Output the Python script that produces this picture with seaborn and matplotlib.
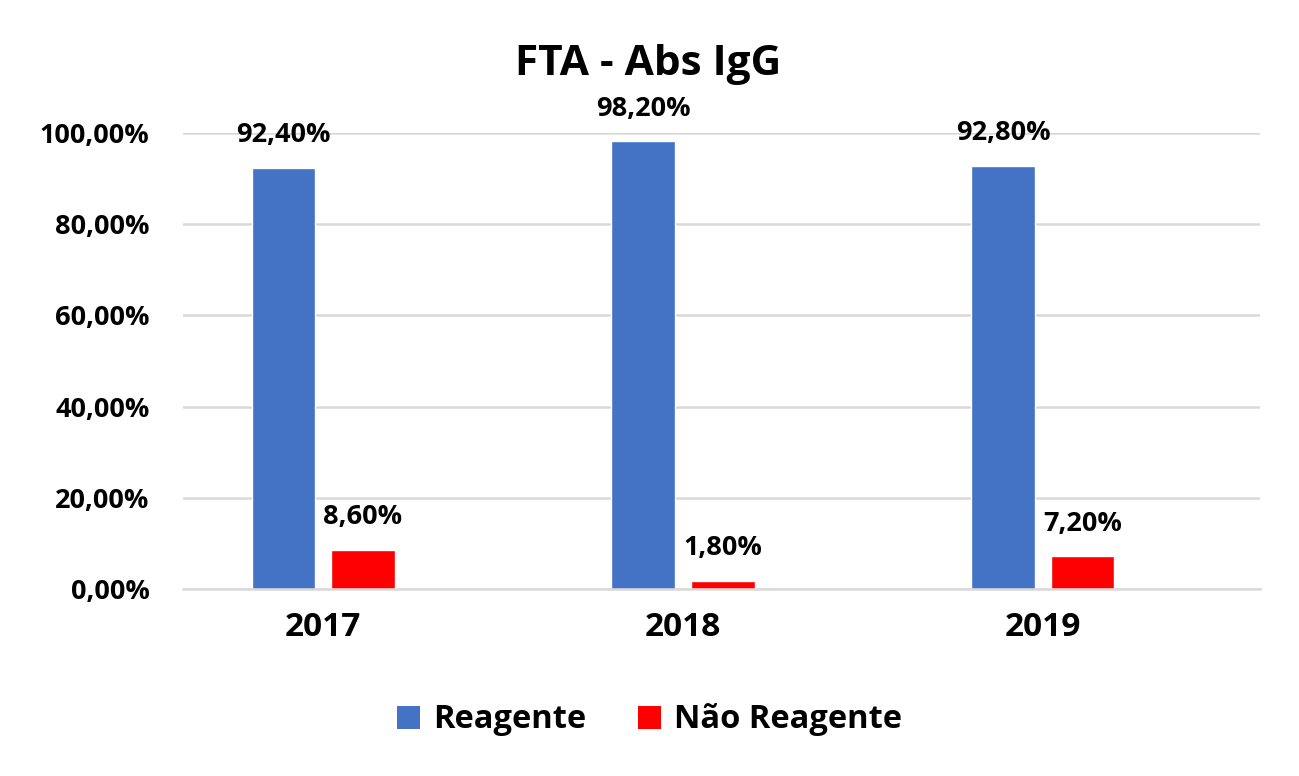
import matplotlib
matplotlib.use("Agg")
import matplotlib.pyplot as plt
import seaborn as sns
import pandas as pd

years = ["2017", "2018", "2019"]
reagente = [92.40, 98.20, 92.80]
nao_reagente = [8.60, 1.80, 7.20]
series_names = ["Reagente", "Não Reagente"]
colors = ["#4472C4", "#FF0000"]

df = pd.DataFrame({
    "ano": years * 2,
    "valor": reagente + nao_reagente,
    "serie": [series_names[0]] * 3 + [series_names[1]] * 3,
})

sns.set_theme(style="white")
plt.rcParams["font.family"] = ["Open Sans", "DejaVu Sans"]
plt.rcParams["font.weight"] = "bold"
plt.rcParams["text.color"] = "black"
plt.rcParams["xtick.color"] = "black"
plt.rcParams["ytick.color"] = "black"
plt.rcParams["xtick.labelcolor"] = "black"
plt.rcParams["ytick.labelcolor"] = "black"

fig = plt.figure(figsize=(12.99, 7.76), dpi=100)
ax = fig.add_axes([183/1299, 1-589/776, (1260-183)/1299, (589-133)/776])

sns.barplot(data=df, x="ano", y="valor", hue="serie", palette=colors,
            width=0.444, gap=0.21, ax=ax, legend=False, saturation=1)

ax.set_ylim(0, 100)
ax.set_xlim(-0.389, 2.603)
ax.set_yticks([0, 20, 40, 60, 80, 100])
ax.set_yticklabels([f"{v:.2f}%".replace(".", ",") for v in [0, 20, 40, 60, 80, 100]])
ax.yaxis.grid(True, color="#D9D9D9", linewidth=1.8)
ax.set_axisbelow(True)
for s in ["top", "right", "left"]:
    ax.spines[s].set_visible(False)
ax.spines["bottom"].set_color("#D9D9D9")
ax.spines["bottom"].set_linewidth(1.8)
ax.tick_params(axis="y", length=0, pad=24, labelsize=19.5)
ax.tick_params(axis="x", length=0, pad=16, labelsize=24)
for lab in ax.get_xticklabels() + ax.get_yticklabels():
    lab.set_fontweight("bold")
ax.set_xlabel("")
ax.set_ylabel("")

for cont in ax.containers:
    labels = [f"{b.get_height():.2f}%".replace(".", ",") for b in cont]
    ax.bar_label(cont, labels=labels, padding=14, fontsize=19.5, fontweight="bold",
                 color="black", clip_on=False)

fig.text(0.499, 1-75/776, "FTA - Abs IgG", ha="center", va="baseline",
         fontsize=30.5, fontweight="bold", color="black")

from matplotlib.patches import Patch
handles = [Patch(facecolor=c, edgecolor="none") for c in colors]
leg = fig.legend(handles, series_names, loc="center", bbox_to_anchor=(0.5, 1-720/776),
                 ncol=2, frameon=False, fontsize=23.5, handlelength=0.7, handleheight=0.7,
                 columnspacing=1.6, handletextpad=0.4)
for t in leg.get_texts():
    t.set_fontweight("bold")
    t.set_color("black")

fig.savefig("out.png", dpi=100)
